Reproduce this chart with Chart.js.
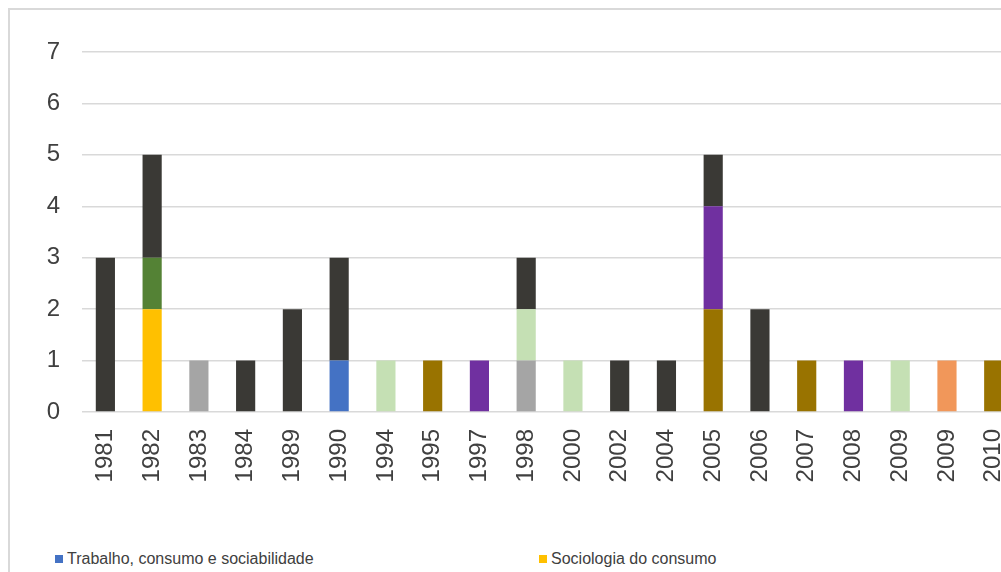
<!DOCTYPE html>
<html>
<head>
<meta charset="utf-8">
<script src="https://cdn.jsdelivr.net/npm/chart.js@4/dist/chart.umd.min.js"></script>
<style>
  html, body { margin: 0; padding: 0; background: #fff; overflow: hidden; width: 1001px; height: 572px; }
  #frame { position: absolute; left: 8px; top: 8px; width: 1100px; height: 700px; border-left: 2px solid #D9D9D9; border-top: 2px solid #D9D9D9; box-sizing: border-box; }
  #wrap { position: absolute; left: 0; top: 0; width: 1040px; height: 500px; }
  #legend { position: absolute; left: 55px; top: 550px; width: 1000px; display: grid; grid-template-columns: 484px 484px; row-gap: 6px;
    font: 16px "Liberation Sans", Arial, sans-serif; color: #404040; line-height: 17px; }
  .item { display: flex; align-items: center; white-space: nowrap; }
  .box { width: 8px; height: 8px; margin-right: 4px; flex: none; }
</style>
</head>
<body>
<div id="frame"></div>
<div id="wrap"><canvas id="c"></canvas></div>
<div id="legend"></div>
<script>
// Publicações por ano e tema (gráfico recortado à direita e em baixo)
const anos = ['1981', '1982', '1983', '1984', '1989', '1990', '1994', '1995', '1997', '1998',
              '2000', '2002', '2004', '2005', '2006', '2007', '2008', '2009', '2009', '2010'];

const trabalho   = [0, 0, 0, 0, 0, 1, 0, 0, 0, 0, 0, 0, 0, 0, 0, 0, 0, 0, 0, 0];
const sociologia = [0, 2, 0, 0, 0, 0, 0, 0, 0, 0, 0, 0, 0, 0, 0, 0, 0, 0, 0, 0];
const serie3     = [0, 0, 1, 0, 0, 0, 0, 0, 0, 1, 0, 0, 0, 0, 0, 0, 0, 0, 0, 0];
const serie4     = [0, 0, 0, 0, 0, 0, 1, 0, 0, 1, 1, 0, 0, 0, 0, 0, 0, 1, 0, 0];
const serie5     = [0, 0, 0, 0, 0, 0, 0, 1, 0, 0, 0, 0, 0, 2, 0, 1, 0, 0, 0, 1];
const serie6     = [0, 0, 0, 0, 0, 0, 0, 0, 1, 0, 0, 0, 0, 2, 0, 0, 1, 0, 0, 0];
const serie7     = [0, 1, 0, 0, 0, 0, 0, 0, 0, 0, 0, 0, 0, 0, 0, 0, 0, 0, 0, 0];
const serie8     = [0, 0, 0, 0, 0, 0, 0, 0, 0, 0, 0, 0, 0, 0, 0, 0, 0, 0, 1, 0];
const serie9     = [3, 2, 0, 1, 2, 2, 0, 0, 0, 1, 0, 1, 1, 1, 2, 0, 0, 0, 0, 0];

const nomes = ['Trabalho, consumo e sociabilidade', 'Sociologia do consumo',
               'Série 3', 'Série 4', 'Série 5', 'Série 6', 'Série 7', 'Série 8', 'Série 9'];
const cores = ['#4472C4', '#FFC000', '#A5A5A5', '#C5E0B4', '#997300', '#7030A0', '#548235', '#F1975A', '#3A3935'];
const series = [trabalho, sociologia, serie3, serie4, serie5, serie6, serie7, serie8, serie9];

const fonte = '"Liberation Sans", Arial, sans-serif';
const texto = '#404040';

const datasets = series.map((d, i) => ({
  label: nomes[i],
  data: d,
  backgroundColor: cores[i],
  borderWidth: 0,
  barPercentage: 0.41,
  categoryPercentage: 1
}));

new Chart(document.getElementById('c').getContext('2d'), {
  type: 'bar',
  data: { labels: anos, datasets },
  options: {
    responsive: true,
    maintainAspectRatio: false,
    animation: false,
    layout: { padding: { top: 52, right: 19, left: 0, bottom: 0 } },
    plugins: { legend: { display: false }, tooltip: { enabled: false } },
    scales: {
      x: {
        stacked: true,
        grid: { display: false, drawTicks: false },
        border: { display: false },
        ticks: { color: texto, font: { family: fonte, size: 24 }, minRotation: 90, maxRotation: 90, padding: 17, autoSkip: false },
        afterFit: (s) => { s.height = 88; }
      },
      y: {
        stacked: true,
        min: 0, max: 7,
        grid: { color: '#D9D9D9', lineWidth: 1.5, drawTicks: false },
        border: { display: false },
        ticks: { stepSize: 1, color: texto, font: { family: fonte, size: 24 }, padding: 22 },
        afterFit: (s) => { s.width = 82; }
      }
    }
  }
});

const leg = document.getElementById('legend');
nomes.forEach((n, i) => {
  const it = document.createElement('div');
  it.className = 'item';
  it.innerHTML = '<span class="box" style="background:' + cores[i] + '"></span><span>' + n + '</span>';
  leg.appendChild(it);
});
</script>
</body>
</html>
